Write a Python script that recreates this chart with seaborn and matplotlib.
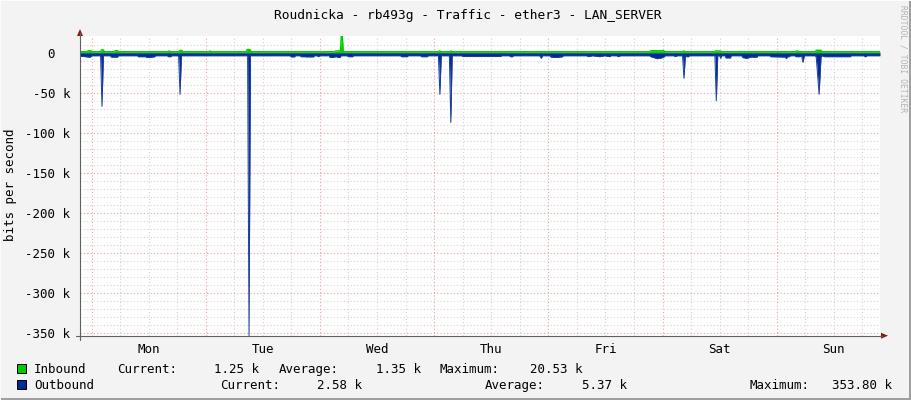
import matplotlib
matplotlib.use("Agg")
import matplotlib.pyplot as plt
from matplotlib.patches import Rectangle, Polygon
from matplotlib.lines import Line2D
from matplotlib.transforms import ScaledTranslation
import seaborn as sns

# ---- data (hours from Monday 00:00, values in kbit/s) ----
in_hours = [-2.4, -0.8, -0.7, -0.1, 0.0, 1.9, 2.1, 2.5, 2.7, 4.8, 5.0, 5.5, 5.7,
            16.1, 16.3, 16.6, 18.3, 18.5, 19.0, 19.2, 24.8, 24.9, 25.2,
            32.5, 32.7, 33.3, 33.5, 51.1, 51.3, 52.3, 52.5, 52.7, 52.9,
            72.9, 73.1, 73.5, 75.3, 75.5, 75.7, 117.3, 117.5, 120.3, 120.5,
            124.2, 124.4, 124.7, 130.9, 131.1, 132.2, 132.3, 147.9, 148.1, 148.8,
            152.1, 152.3, 153.3, 153.5, 165.7]
in_kbps = [1.2, 1.2, 2.5, 2.5, 1.2, 1.2, 3.5, 3.5, 1.2, 1.2, 2.5, 2.5, 1.2,
           1.2, 2.2, 1.2, 1.2, 2.8, 2.8, 1.2, 1.2, 2.2, 1.2,
           1.2, 4.0, 4.0, 1.2, 1.2, 2.2, 2.2, 20.5, 20.5, 1.2,
           1.2, 2.2, 1.2, 1.2, 2.2, 1.2, 1.2, 2.5, 2.5, 1.2,
           1.2, 2.2, 1.2, 1.2, 2.2, 2.2, 1.2, 1.2, 2.2, 1.2,
           1.2, 3.0, 3.0, 1.2, 1.25]

out_hours = [-2.4, -1.2, -0.7, -0.2, 0.0, 1.9, 2.2, 2.5, 4.0, 4.1, 5.5, 5.6,
             9.7, 9.8, 11.3, 11.8, 12.8, 13.3, 13.4, 16.0, 16.1, 16.7, 16.8,
             18.3, 18.6, 18.9, 32.8, 33.1, 33.4, 41.8, 41.9, 42.7, 42.8,
             43.9, 44.0, 44.8, 45.2, 46.7, 46.8, 47.5, 47.6, 48.0,
             50.0, 50.1, 50.7, 50.9, 51.5, 51.8, 52.3, 52.4, 53.8, 53.9, 54.9, 55.0,
             65.0, 65.1, 66.4, 66.5, 69.2, 69.3, 70.6, 70.7, 72.9, 73.2, 73.5,
             75.2, 75.5, 75.8, 77.9, 78.0, 86.0, 86.1, 87.9, 88.0, 88.5, 88.6,
             94.2, 94.5, 94.8, 96.4, 96.5, 97.8, 99.0, 99.1,
             104.2, 104.3, 105.3, 106.8, 107.8, 109.0, 109.1, 110.5, 110.6, 111.2,
             117.4, 117.5, 118.9, 119.8, 120.4, 120.5, 122.5, 122.6, 123.1,
             124.2, 124.5, 124.8, 125.0, 125.5, 125.6, 131.0, 131.3, 131.6,
             132.0, 132.2, 132.4, 133.2, 133.3, 134.3, 134.4,
             136.7, 136.8, 137.6, 138.3, 138.5, 139.9, 140.0,
             142.6, 142.7, 145.8, 146.0, 146.3, 146.7, 146.8,
             147.9, 148.0, 148.8, 149.2, 149.5, 149.8,
             152.1, 152.3, 152.9, 153.3, 153.5, 154.0, 159.5, 159.6,
             162.4, 162.5, 162.8, 162.9, 165.7]
out_kbps = [-4.5, -5.0, -5.5, -5.5, -3.8, -3.8, -67, -3.8, -3.8, -5.5, -5.5, -3.8,
            -3.8, -5.0, -5.0, -6.0, -5.5, -5.0, -3.8, -3.8, -5.0, -5.0, -3.8,
            -3.8, -52, -3.8, -3.8, -354, -3.8, -3.8, -5.2, -5.2, -3.8,
            -3.8, -5.0, -5.0, -5.2, -5.2, -3.8, -3.8, -5.0, -3.8,
            -3.8, -6.0, -6.0, -5.5, -5.0, -6.0, -6.0, -3.8, -3.8, -5.0, -5.0, -3.8,
            -3.8, -5.0, -5.0, -3.8, -3.8, -5.0, -5.0, -3.8, -3.8, -52, -3.8,
            -3.8, -87, -3.8, -3.8, -4.8, -4.8, -3.8, -3.8, -5.0, -5.0, -3.8,
            -3.8, -7.0, -3.8, -3.8, -5.5, -6.0, -5.0, -3.8,
            -3.8, -5.0, -3.8, -5.0, -3.8, -5.0, -3.8, -3.8, -5.0, -3.8,
            -3.8, -5.0, -7.5, -6.5, -5.0, -3.8, -3.8, -5.0, -3.8,
            -3.8, -32, -3.8, -5.0, -5.0, -3.8, -3.8, -60, -3.8,
            -3.8, -7.0, -3.8, -3.8, -6.5, -6.5, -3.8,
            -3.8, -6.0, -7.0, -6.0, -5.5, -5.5, -3.8,
            -3.8, -5.0, -5.5, -7.5, -5.0, -5.0, -3.8,
            -3.8, -5.0, -5.0, -3.8, -12, -3.8,
            -3.8, -6.0, -52, -6.0, -3.8, -5.0, -5.0, -3.8,
            -3.8, -5.0, -5.0, -3.8, -3.8]

day_labels = ["Mon", "Tue", "Wed", "Thu", "Fri", "Sat", "Sun"]
day_label_hours = [12, 36, 60, 84, 108, 132, 156]
day_boundary_hours = [0, 24, 48, 72, 96, 120, 144]
y_ticks = [0, -50, -100, -150, -200, -250, -300, -350]
y_tick_labels = ["0", "-50 k", "-100 k", "-150 k", "-200 k", "-250 k", "-300 k", "-350 k"]

title = "Roudnicka - rb493g - Traffic - ether3 - LAN_SERVER"
legend_rows = [
    ("Inbound", "#00CC00", [("Current:", 117, "l"), ("1.25 k", 258.5, "r"),
                            ("Average:", 279, "l"), ("1.35 k", 420.5, "r"),
                            ("Maximum:", 439, "l"), ("20.53 k", 583, "r")]),
    ("Outbound", "#002A97", [("Current:", 220, "l"), ("2.58 k", 362, "r"),
                             ("Average:", 485, "l"), ("5.37 k", 627, "r"),
                             ("Maximum:", 749, "l"), ("353.80 k", 892, "r")]),
]

# ---- figure ----
W, H = 911, 400
sns.set_theme(style="white")
plt.rcParams["font.family"] = ["DejaVu Sans Mono", "DejaVu Sans"]
FS = 9.0
TXT = "#000000"

fig = plt.figure(figsize=(W / 100, H / 100), dpi=100)
fig.patch.set_facecolor("#F3F3F3")

def fx(px):
    return px / W

def fy(py):
    return 1 - py / H

ax = fig.add_axes([fx(80), fy(335.7), fx(800), (335.7 - 36) / H])
ax.set_facecolor("white")
x0, x1 = -2.42, 165.7
y0, y1 = -353.0, 20.8
ax.set_xlim(x0, x1)
ax.set_ylim(y0, y1)

# grid
minor_col = "#D2D2D2"
major_col = "#F0A0A0"
dot = (0, (1, 2))
for h in range(-0, 168, 6):
    if h % 24 != 0 and x0 < h < x1:
        ax.axvline(h, color=minor_col, lw=0.8, ls=dot, zorder=0.5)
for v in range(10, -360, -10):
    if v % 50 != 0 and y0 < v < y1:
        ax.axhline(v, color=minor_col, lw=0.8, ls=dot, zorder=0.5)
for h in day_boundary_hours:
    ax.axvline(h, color=major_col, lw=0.8, ls=dot, zorder=0.6)
for v in y_ticks:
    ax.axhline(v, color=major_col, lw=0.8, ls=dot, zorder=0.6)

# data
ax.fill_between(out_hours, out_kbps, 0, color="#002A97", lw=0, zorder=2)
sns.lineplot(x=out_hours, y=out_kbps, ax=ax, color="#1A3EA0", lw=0.7,
             estimator=None, sort=False, zorder=2.1)
ax.fill_between(in_hours, in_kbps, 0, color="#00CC00", lw=0, zorder=3)
sns.lineplot(x=in_hours, y=in_kbps, ax=ax, color="#00CC00", lw=1.0,
             estimator=None, sort=False, zorder=3.1)

# ticks
ax.set_xticks(day_label_hours)
ax.set_xticklabels(day_labels, fontsize=FS, color=TXT)
ax.set_yticks(y_ticks)
ax.set_yticklabels(y_tick_labels, fontsize=FS, color=TXT)
ax.tick_params(axis="x", length=0, pad=5)
ax.tick_params(axis="y", length=3, width=0.8, color="#808080", pad=4, direction="out")
for lab in ax.get_yticklabels():
    if lab.get_text() == "0":
        lab.set_transform(lab.get_transform() + ScaledTranslation(-0.155, 0, fig.dpi_scale_trans))
for s in ax.spines.values():
    s.set_visible(False)
ax.set_xlabel("")
ax.set_ylabel("")
ax.grid(False)

# axis lines with arrows
axis_col = "#606060"
arrow_col = "#8B1A1A"
fig.add_artist(Line2D([fx(80), fx(80)], [fy(33), fy(340)], color=axis_col, lw=0.8))
fig.add_artist(Line2D([fx(76), fx(882)], [fy(335.7), fy(335.7)], color=axis_col, lw=0.8))
fig.add_artist(Polygon([[fx(77), fy(36)], [fx(83), fy(36)], [fx(80), fy(29)]],
                       closed=True, transform=fig.transFigure, color=arrow_col, lw=0))
fig.add_artist(Polygon([[fx(881), fy(332.7)], [fx(881), fy(338.7)], [fx(888), fy(335.7)]],
                       closed=True, transform=fig.transFigure, color=arrow_col, lw=0))

# title, y label, watermark
fig.text(fx(467.5), fy(19), title, ha="center", va="baseline", fontsize=9.3, color=TXT)
fig.text(fx(11), fy(185), "bits per second", ha="center", va="center",
         rotation=90, fontsize=FS, color=TXT)
fig.text(fx(902.5), fy(5), "RRDTOOL / TOBI OETIKER", ha="center", va="top",
         rotation=-90, fontsize=5.8, color="#B4B4B4")

# legend
row_base = [373, 388.7]
for (name, col, items), by in zip(legend_rows, row_base):
    fig.add_artist(Rectangle((fx(17), fy(by)), fx(9), 9 / H, transform=fig.transFigure,
                             facecolor=col, edgecolor="#000000", lw=0.7))
    fig.text(fx(34), fy(by), name, ha="left", va="baseline", fontsize=FS, color=TXT)
    for text, xpos, al in items:
        fig.text(fx(xpos), fy(by), text, ha="left" if al == "l" else "right",
                 va="baseline", fontsize=FS, color=TXT)

# frame shading
fig.add_artist(Rectangle((0, 0), 1, 2 / H, transform=fig.transFigure, color="#9F9F9F", lw=0))
fig.add_artist(Rectangle((1 - 2 / W, 0), 2 / W, 1, transform=fig.transFigure, color="#9F9F9F", lw=0))
fig.add_artist(Rectangle((0, 1 - 1 / H), 1, 1 / H, transform=fig.transFigure, color="#FCFCFC", lw=0))
fig.add_artist(Rectangle((0, 0), 1 / W, 1, transform=fig.transFigure, color="#FCFCFC", lw=0))

fig.savefig("out.png", dpi=100, facecolor=fig.get_facecolor())
